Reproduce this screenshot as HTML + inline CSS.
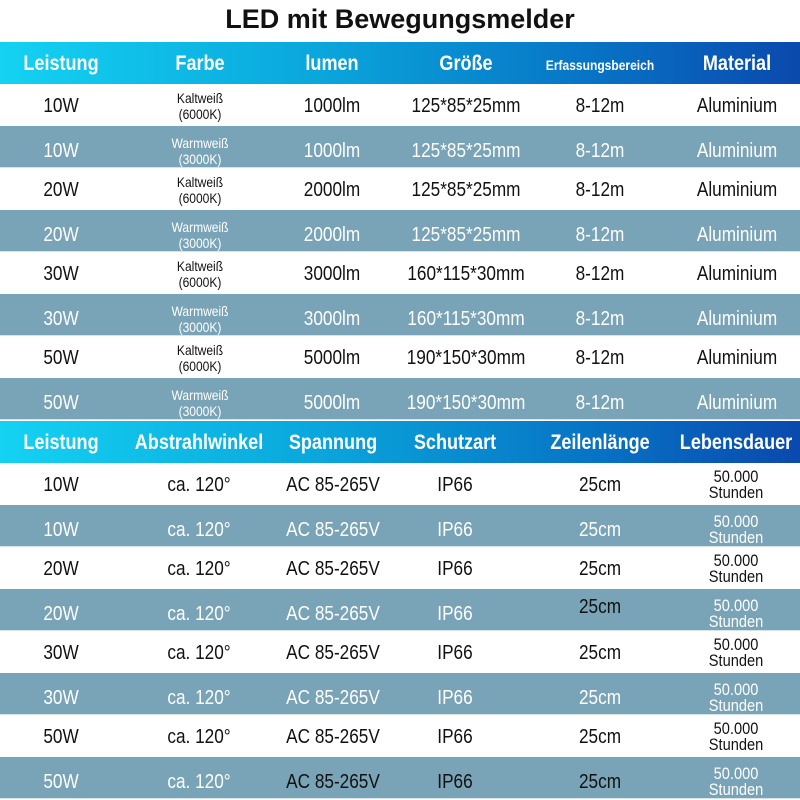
<!DOCTYPE html>
<html><head><meta charset="utf-8">
<style>
body{margin:0;width:800px;height:800px;overflow:hidden;background:#fff;font-family:"Liberation Sans",sans-serif;}
#root{position:relative;width:800px;height:800px;}
.title{position:absolute;left:0;top:4px;width:800px;text-align:center;font:bold 27px "Liberation Sans",sans-serif;color:#111;}
.hdr{position:absolute;left:0;width:800px;background:linear-gradient(90deg,#14d2f2 0%,#0aa6dc 40%,#0772c4 75%,#0a49ad 100%);}
.row{position:absolute;left:0;width:800px;}
.g{background:#79a3b6;border-bottom:1px solid #d6e4ea;box-sizing:border-box;}
.c{position:absolute;transform:translateX(-50%) scaleX(0.86);white-space:nowrap;text-align:center;line-height:1;}
.h{color:#fff;font-weight:bold;font-size:21px;}
.d{font-size:20px;color:#111;}
.g .d{color:#fff;}
.s{font-size:14px;line-height:16px;}
.k{color:#111 !important;}
</style></head><body>
<div id="root">
<div class="title">LED mit Bewegungsmelder</div>
</div>
<script>
const head1=["Leistung","Farbe","lumen","Größe","Erfassungsbereich","Material"];
const x1=[61,200,332,466,600,737];
const rows1=[
["10W","Kaltweiß|(6000K)","1000lm","125*85*25mm","8-12m","Aluminium"],
["10W","Warmweiß|(3000K)","1000lm","125*85*25mm","8-12m","Aluminium"],
["20W","Kaltweiß|(6000K)","2000lm","125*85*25mm","8-12m","Aluminium"],
["20W","Warmweiß|(3000K)","2000lm","125*85*25mm","8-12m","Aluminium"],
["30W","Kaltweiß|(6000K)","3000lm","160*115*30mm","8-12m","Aluminium"],
["30W","Warmweiß|(3000K)","3000lm","160*115*30mm","8-12m","Aluminium"],
["50W","Kaltweiß|(6000K)","5000lm","190*150*30mm","8-12m","Aluminium"],
["50W","Warmweiß|(3000K)","5000lm","190*150*30mm","8-12m","Aluminium"]];
const head2=["Leistung","Abstrahlwinkel","Spannung","Schutzart","Zeilenlänge","Lebensdauer"];
const x2=[61,199,333,455,600,736];
const watts=["10W","10W","20W","20W","30W","30W","50W","50W"];
const root=document.getElementById('root');
function mk(cls,top,h,name){
  const d=document.createElement('div');
  d.className=cls;d.style.top=top+'px';d.style.height=h+'px';
  
  
  root.appendChild(d);return d;
}
function cell(p,txt,x,cls,name,top){
  const c=document.createElement('div');
  c.className='c '+cls;c.style.left=x+'px';
  if(txt.indexOf('|')>=0){c.innerHTML=txt.split('|').join('<br>');c.classList.add('s');c.style.top=(top-6)+'px';}
  else{c.style.top=top+'px';c.textContent=txt;}
  
  
  p.appendChild(c);return c;
}
function table(y0,head,xs,rows,prefix){
  const h=mk('hdr',y0,42,prefix+'-header');
  head.forEach((t,i)=>{const c=cell(h,t,xs[i],'h',prefix+'-header-'+i,11);if(t==='Erfassungsbereich'){c.style.fontSize='14px';c.style.top='16px';}});
  rows.forEach((r,ri)=>{
    const g=ri%2===1;
    const top=y0+42+ri*42;
    const rw=mk('row'+(g?' g':''),top,42,prefix+'-row-'+(ri+1));
    r.forEach((t,i)=>{const c=cell(rw,t,xs[i],'d',prefix+'-cell-'+(ri+1)+'-'+i,g?15:12);
      if(prefix==='t2'&&ri===7&&(i>=2&&i<=4))c.classList.add('k');
      if(prefix==='t2'&&ri===3&&i===4){c.classList.add('k');c.style.top='8px';}
    });
  });
}
table(42,head1,x1,rows1,'t1');
const rows2=watts.map(w=>[w,"ca. 120°","AC 85-265V","IP66","25cm","50.000|Stunden"]);
table(421,head2,x2,rows2,'t2');
document.querySelectorAll('.s').forEach(e=>{if(e.textContent.indexOf('Stunden')>=0)e.style.fontSize='17px';});
</script>
</body></html>
